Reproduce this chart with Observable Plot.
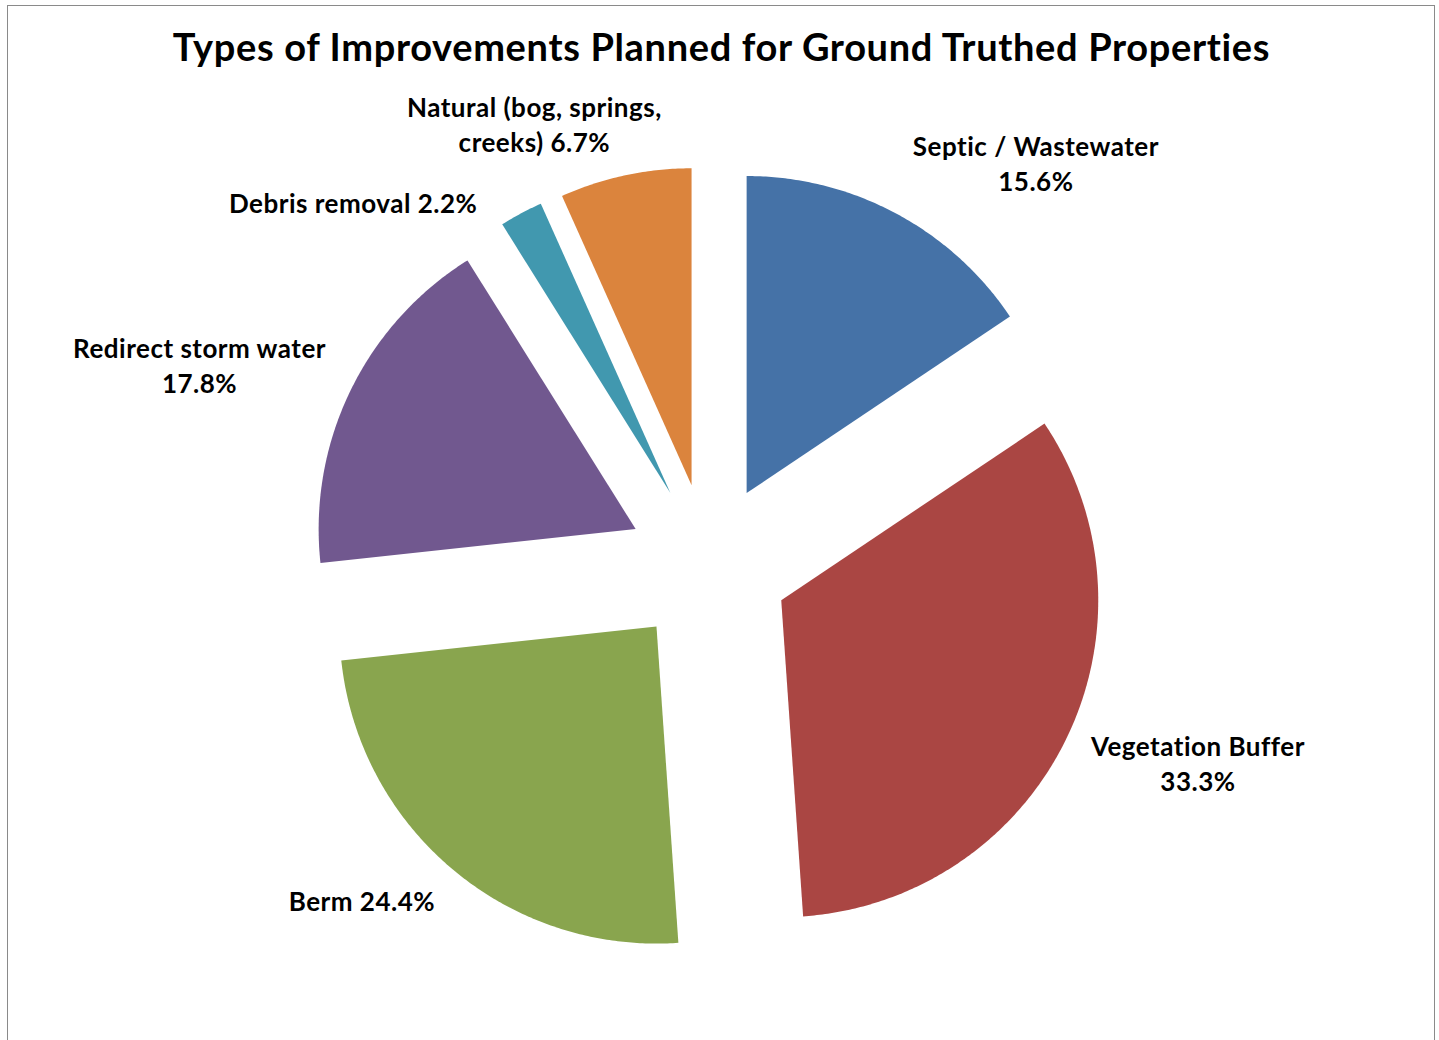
<!DOCTYPE html>
<html><head><meta charset="utf-8">
<script src="https://cdn.jsdelivr.net/npm/d3@7"></script>
<script src="https://cdn.jsdelivr.net/npm/@observablehq/plot@0.6"></script>
<style>
body{margin:0;background:#fff;width:1439px;height:1040px;overflow:hidden;position:relative;font-family:Lato,sans-serif}
#frame{position:absolute;left:7px;top:5px;width:1428px;height:1100px;border:1px solid #8a8a8a;box-sizing:border-box}
#title{position:absolute;left:0;width:1443px;top:24px;text-align:center;font-weight:bold;font-size:38px;letter-spacing:0.65px;line-height:44px;color:#000;font-family:Lato,sans-serif}
#chart{position:absolute;left:0;top:90px}
</style></head><body>
<div id="frame"></div>
<div id="title">Types of Improvements Planned for Ground Truthed Properties</div>
<div id="chart"></div>
<script>
// ---- data ----
const categories = ["Septic / Wastewater", "Vegetation Buffer", "Berm", "Redirect storm water", "Debris removal", "Natural (bog, springs, creeks)"];
const percents = [15.6, 33.3, 24.4, 17.8, 2.2, 6.7];
const labelNames = ["Septic / Wastewater", "Vegetation Buffer", "Berm", "Redirect storm water", "Debris removal", "Natural (bog, springs,\ncreeks)"];
const labelJoin = ["\n", "\n", " ", "\n", " ", " "];
const colors = ["#4572A7", "#AA4643", "#89A54E", "#71588F", "#4198AF", "#DB843D"];

// ---- layout ----
const R = 317;              // pie radius (px)
const EXPLODE = 81;         // explosion distance (px)
const CX = 708, CY = 474;   // pie centre within the svg
const W = 1439, H = 950;
// label nudges from the arc midpoint of each slice (px)
const labelNudge = [[140, -51], [132, 23], [-91, 30], [-151, -26], [-168, -12], [-91, -52]];

const total = d3.sum(percents);
let acc = 0;
const slices = categories.map((c, i) => {
  const a0 = acc / total * 2 * Math.PI; acc += percents[i];
  const a1 = acc / total * 2 * Math.PI;
  return {c, i, a0, a1, mid: (a0 + a1) / 2};
});
const pts = [];
for (const s of slices) {
  const ox = EXPLODE * Math.sin(s.mid), oy = -EXPLODE * Math.cos(s.mid);
  pts.push({c: s.c, x: ox, y: oy});
  const n = Math.max(4, Math.ceil((s.a1 - s.a0) / (Math.PI / 360)));
  for (let k = 0; k <= n; k++) {
    const a = s.a0 + (s.a1 - s.a0) * k / n;
    pts.push({c: s.c, x: ox + R * Math.sin(a), y: oy - R * Math.cos(a)});
  }
  pts.push({c: s.c, x: ox, y: oy});
}
const labels = slices.map(s => {
  const r = EXPLODE + R;
  return {
    x: r * Math.sin(s.mid) + labelNudge[s.i][0],
    y: -r * Math.cos(s.mid) + labelNudge[s.i][1],
    text: labelNames[s.i] + labelJoin[s.i] + percents[s.i].toFixed(1) + "%"
  };
});

const chart = Plot.plot({
  width: W, height: H, margin: 0,
  x: {domain: [-CX, W - CX], range: [0, W], axis: null},
  y: {domain: [-CY, H - CY], range: [0, H], axis: null},
  color: {domain: categories, range: colors},
  style: {fontFamily: "Lato, sans-serif", background: "transparent", overflow: "visible", letterSpacing: "0.5px"},
  marks: [
    Plot.line(pts, {x: "x", y: "y", z: "c", fill: "c", stroke: "none", curve: "linear"}),
    Plot.text(labels, {x: "x", y: "y", text: "text", textAnchor: "middle", lineAnchor: "middle",
      lineHeight: 1.346, fontSize: 26, fontWeight: "bold", fill: "#000"})
  ]
});
document.getElementById("chart").appendChild(chart);
</script>
</body></html>
